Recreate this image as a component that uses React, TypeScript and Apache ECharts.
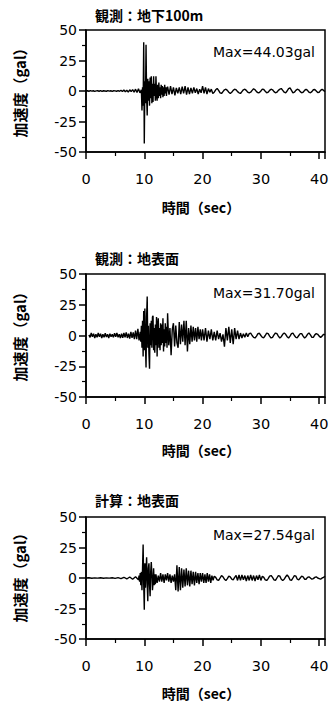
import React, { useEffect, useRef } from "react";
import * as echarts from "echarts";

// ---------- data (time in sec, acceleration in gal) ----------
// Panel 1: 観測：地下100m
const subA_start = 0, subA_dt = 0.25;
const subA = [0, 0.2, -0.2, 0.3, -0.1, 0.2, -0.3, 0.1, 0.2, -0.2, 0.3, -0.3, 0.2, 0, -0.2, 0.3, -0.1, 0.2, -0.3, 0.2, 0.1, -0.2, 0.3, -0.2,
  0.5, -0.4, 0.8, -0.6, 0.6, -0.9, 1.0, -0.5,
  1.2, -1.0, 1.5, -1.2, 1.8, -1.5];
const subB_start = 9.5, subB_dt = 0.1;
const subB = [1, -16, 3, -12, 40, -43.03, 8, -10, 38, -5,
  -20, 10, -8, 8, -12, 11, -6, 12, -10, 6,
  -9, 12, -4, 6, -8, 12, -3, -8, 5, -6,
  7, -4, 3, -6, 5, -3, 4, -5, 3, -4,
  5, -2, 3, -4, 2];
const subC_start = 14, subC_dt = 0.25;
const subC = [3.5, -3, 4, -2.5, 3, -3.5, 2.5, -2,
  3, -2.5, 3.5, -2, 4, -3, 3, -2.5,
  2.5, -2, 3, -1.5, 2, -2.5, 1.5, -1.5,
  4, -2, 3, -2.5, 2, -1, 1.5, -2,
  -1, 1, 2, 0.5, -1.5, -2, -0.5, 1,
  1.5, 0.5, -1, -2, -1, 0.5, 1.5, 1,
  -0.5, -1.5, -2, -0.5, 1, 1.5, 0.5, -1,
  -1.5, -1, 0.5, 1.8, 1, -0.5, -1.5, -1.2,
  0, 1.5, 1.2, -0.3, -1.5, -1, 0.5, 1.5,
  1, -0.5, -1.5, -1, 0.5, 1.5, 2, 0.5,
  -1, -1.5, 0, 2, 2.5, 0.5, -1.5, -1,
  0.5, 1.5, 1, -0.5, -1.5, -1, 0.5, 1.5,
  0.5, -1, -1.5, -0.5, 1, 1.2, 0, -1.2,
  -1, 0.5, 1.5, 0.5, -0.5];

// Panel 2: 観測：地表面
const surfA_start = 0.5, surfA_dt = 0.2;
const surfA = [0.5, -1.5, 2, -1, 1.5, -2, 1, -1.5, 2, -1,
  1.5, -2, 1, -1.5, 1.8, -1.2, 1, -2, 1.5, -1,
  1, -1.5, 1.8, -1, 2, -1.5, 1, -2, 1.5, -1.8,
  2, -1.5, 2.5, -2, 1.5, -2.5, 3, -2, 2.5, -3,
  4, -3, 5.5, -4, 3];
const surfB_start = 9.4, surfB_dt = 0.1;
const surfB = [-5, 8, -10, 12, -17, 20,
  -12, 22, -8, -26, 15, 31.7, -10, 8, -15, -27,
  10, -8, 12, -10, 15, 16, -12, 6, -14, 9,
  -8, 15, -17, 8, 14, -10, 6, -12, 10, -8,
  9, -6, 14, -13, 5, -9, 10, -6, 7, -10];
const surfC_start = 14, surfC_dt = 0.2;
const surfC = [18, -8, 6, -16, 5, 10, -9, 8, -6, -10,
  11, -7, 9, -5, 12, -8, 12, -13, 6, -7,
  8, -5, 7, -4, 6, -5, 7, -3, 5, -4];
const surfD_start = 20, surfD_dt = 0.25;
const surfD = [5, -4, 6, -5, 4, -3, 5, -4,
  3, -4, 4, -3, 2, -5, 1, -9,
  6, -4, 7, -6, 5, -7, 6, -3,
  4, -3, 2, -2, 1.5, -1.5, 2, -1,
  1.5, 2, 0, -1.5, -2, -0.5, 1.5, 1.8,
  0, -1.5, -1.8, 0, 2, 1.5, -0.5, -2,
  -1.5, 0.5, 2, 1.5, -0.5, -2, -1, 1,
  2, 1, -1, -2, -0.5, 1.5, 2, 0,
  -1.5, -1.8, 0, 1.5, 1.5, -0.5, -2, -1,
  1, 2, 0.5, -1.5, -1.5, 0.5, 1.5, 1,
  -0.5, -1.5, -0.5, 1, 0.5];

// Panel 3: 計算：地表面
const calcA_start = 0, calcA_dt = 0.5;
const calcA = [0, 0.2, -0.2, 0.1, -0.1, 0.2, -0.2, 0.1,
  -0.1, 0.2, -0.3, 0.3, -0.5, 0.6, -0.8, 0.8, -1, 1];
const calcB_start = 9, calcB_dt = 0.1;
const calcB = [-1.5, 2, -3, 4, -6, 5, -10, 8, 27.54, -5,
  -26, 12, -8, 6, 17, -5, -19, 8, 12, -6,
  -15, 5, 13, 3, -10, -4, 8, -6, 3, -5];
const calcC_start = 12, calcC_dt = 0.2;
const calcC = [3, -4, 2, -3, 4, -3, 3, -4, 3, -2,
  4, -3, 3, -4, 2, -3, 3, -10, 10.5, -11,
  9, -10, 8, -8, 7, -7, 8, -6, 6, -7,
  6, -5, 5, -6, 5, -4, 4, -5, 4, -3,
  4, -4, 3, -4, 4, -3, 3, -4, 2, -2];
const calcD_start = 22, calcD_dt = 0.25;
const calcD = [1.5, 0.5, -1.5, -2, 0, 2, 1, -1,
  -2, -0.5, 1.5, 1, -1, -1.5, 0.5, 2,
  -2, 2.5, -2, 2.5, -1.5, 2, -2.5, 2,
  -2, 2.5, -2, 2, -2.5, 2, -1.5, 2.5,
  -2, 1.5, 0.5, -1.5, -2, -0.5, 1.5, 2,
  0.5, -1.5, -2, 0, 2, 1.5, -1, -2,
  -1, 1, 2.5, 1, -1.5, -2, 0, 2,
  1.5, -1, -1.5, 0, 1.5, 1, -1, -1,
  0.5, 1, 0, -1, -0.5, 0.5, 1, 0,
  -0.5, -1, 0, 0.5, 1.5];

const titles = ["観測：地下100m", "観測：地表面", "計算：地表面"];
const maxLabels = ["Max=44.03gal", "Max=31.70gal", "Max=27.54gal"];
const xTicks = [0, 10, 20, 30, 40];
const yTicks = [-50, -25, 0, 25, 50];
const xName = "時間（sec）";
const yName = "加速度（gal）";

function seg(start: number, dt: number, vals: number[]): number[][] {
  return vals.map((v, i) => [Math.round((start + i * dt) * 1000) / 1000, v]);
}

const series1 = [...seg(subA_start, subA_dt, subA), ...seg(subB_start, subB_dt, subB), ...seg(subC_start, subC_dt, subC)];
const series2 = [...seg(surfA_start, surfA_dt, surfA), ...seg(surfB_start, surfB_dt, surfB), ...seg(surfC_start, surfC_dt, surfC), ...seg(surfD_start, surfD_dt, surfD)];
const series3 = [...seg(calcA_start, calcA_dt, calcA), ...seg(calcB_start, calcB_dt, calcB), ...seg(calcC_start, calcC_dt, calcC), ...seg(calcD_start, calcD_dt, calcD)];
const allSeries = [series1, series2, series3];

const CJK = '"Noto Sans CJK JP", "Noto Sans CJK SC", sans-serif';
const LAT = '"DejaVu Sans", Verdana, sans-serif';

export default function App() {
  const ref = useRef<HTMLDivElement>(null);
  useEffect(() => {
    if (!ref.current) return;
    const chart = echarts.init(ref.current, null, { renderer: "svg" });
    const tops = [30, 274, 517];
    const heights = [122, 123, 122];
    const gridLeft = 86, gridW = 239;
    const grids = tops.map((t, i) => ({
      left: gridLeft, top: t, width: gridW, height: heights[i],
      show: true, borderColor: "#000", borderWidth: 1.5, backgroundColor: "transparent",
    }));
    const xAxes = tops.map((_, i) => ({
      gridIndex: i, type: "value", min: 0, max: 41, interval: 10,
      axisLine: { show: true, onZero: false, lineStyle: { color: "#000", width: 1.5 } },
      axisTick: { show: true, length: 7, lineStyle: { color: "#000", width: 1.5 } },
      minorTick: { show: true, splitNumber: 2, length: 4, lineStyle: { color: "#000", width: 1.2 } },
      splitLine: { show: false },
      axisLabel: {
        color: "#000", fontSize: 14.5, fontFamily: LAT, margin: 19,
        formatter: (v: number) => (xTicks.includes(v) ? String(v) : ""),
      },
    }));
    const yAxes = tops.map((_, i) => ({
      gridIndex: i, type: "value", min: -50, max: 50, interval: 25,
      axisLine: { show: true, onZero: false, lineStyle: { color: "#000", width: 1.5 } },
      axisTick: { show: true, length: 7, lineStyle: { color: "#000", width: 1.5 } },
      minorTick: { show: true, splitNumber: 2, length: 4, lineStyle: { color: "#000", width: 1.2 } },
      splitLine: { show: false },
      axisLabel: {
        color: "#000", fontSize: 14, fontFamily: LAT, margin: 9,
        formatter: (v: number) => (yTicks.includes(v) ? String(v) : ""),
      },
    }));
    const series = allSeries.map((d, i) => ({
      type: "line", xAxisIndex: i, yAxisIndex: i, data: d, showSymbol: false, symbol: "none",
      lineStyle: { color: "#000", width: 1.4 }, silent: true,
    }));
    const titleY = [15, 258, 500];
    const maxY = [52, 293, 535];
    const yNameY = [89, 333, 574];
    const xNameY = [207, 450, 693];
    const graphic: any[] = [];
    for (let i = 0; i < 3; i++) {
      graphic.push({
        type: "text", x: 95, y: titleY[i],
        style: { text: titles[i], fontSize: 14, fontWeight: "bold", fontFamily: CJK, fill: "#000", align: "left", verticalAlign: "middle" },
      });
      graphic.push({
        type: "text", x: 315, y: maxY[i],
        style: { text: maxLabels[i], fontSize: 14, fontFamily: LAT, fill: "#000", align: "right", verticalAlign: "middle" },
      });
      graphic.push({
        type: "text", x: 19, y: yNameY[i], rotation: Math.PI / 2,
        style: { text: yName, fontSize: 15, fontWeight: "bold", fontFamily: CJK, fill: "#000", align: "center", verticalAlign: "middle" },
      });
      graphic.push({
        type: "text", x: 201, y: xNameY[i],
        style: { text: xName, fontSize: 14, fontWeight: "bold", fontFamily: CJK, fill: "#000", align: "center", verticalAlign: "middle" },
      });
    }
    chart.setOption({
      animation: false,
      backgroundColor: "#fff",
      grid: grids,
      xAxis: xAxes,
      yAxis: yAxes,
      series,
      graphic,
    });
    return () => chart.dispose();
  }, []);
  return <div ref={ref} style={{ position: "absolute", left: 0, top: 0, width: 333, height: 704 }} />;
}
